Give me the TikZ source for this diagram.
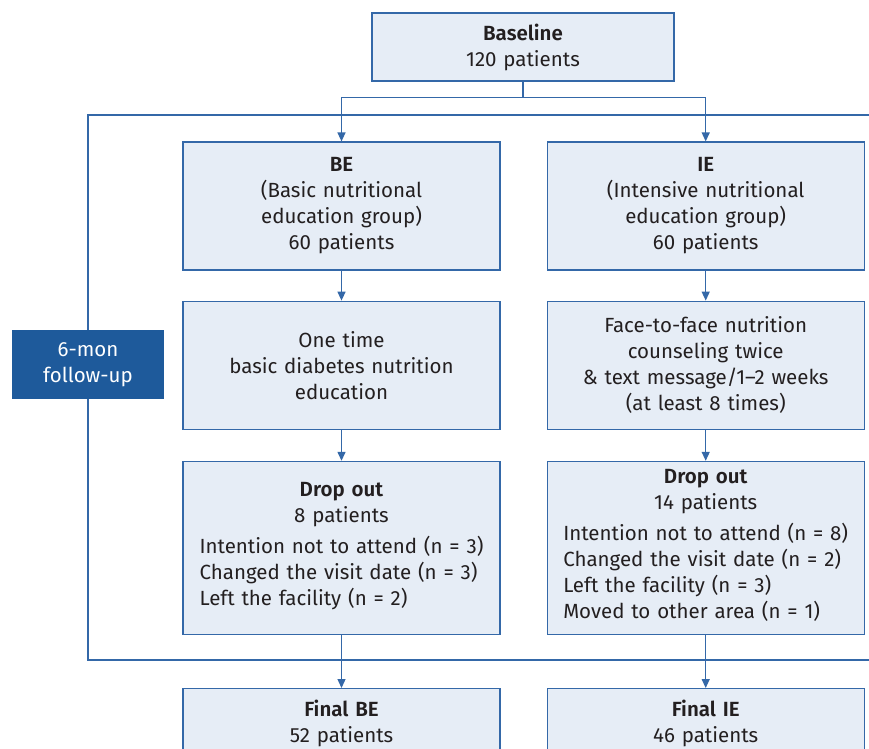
\documentclass[tikz,border=0pt]{standalone}
\usepackage{fontspec}
\setmainfont{Fira Sans}[BoldFont={Fira Sans SemiBold}]
\usetikzlibrary{positioning, arrows.meta}

\definecolor{boxline}{RGB}{52,104,168}
\definecolor{boxfill}{RGB}{230,237,246}
\definecolor{fubox}{RGB}{30,90,155}
\definecolor{txt}{RGB}{35,31,32}

\tikzset{
  box/.style={draw=boxline, fill=boxfill, line width=1.2pt, text=txt,
    text width=305pt, inner xsep=6pt, align=center,
    font=\fontsize{20.5}{26}\selectfont},
  arr/.style={draw=boxline, line width=1.3pt, -{Triangle[width=8pt,length=9pt]}},
  frame/.style={draw=boxline, line width=1.3pt}
}

\begin{document}
\begin{tikzpicture}[x=1pt, y=-1pt]
\clip (0,0) rectangle (869,748);
\fill[white] (0,0) rectangle (869,748);

\node[box, text width=290pt, minimum height=68pt] (base) at (523,47)
    {\textbf{Baseline}\\120 patients};
\node[box, minimum height=128pt] (be) at (341.5,206)
    {\textbf{BE}\\(Basic nutritional\\education group)\\60 patients};
\node[box, minimum height=128pt, right=46pt of be] (ie)
    {\textbf{IE}\\(Intensive nutritional\\education group)\\60 patients};
\node[box, minimum height=128pt, below=30pt of be] (beEdu)
    {One time\\basic diabetes nutrition\\education};
\node[box, minimum height=128pt, below=30pt of ie] (ieEdu)
    {Face-to-face nutrition\\counseling twice\\\& text message/1--2 weeks\\(at least 8 times)};
\node[box, minimum height=173pt, below=31pt of beEdu] (beDrop)
    {\textbf{Drop out}\\8 patients\\[7pt]
    \begin{tabular}{@{}l@{}}Intention not to attend (n = 3)\\
    Changed the visit date (n = 3)\\Left the facility (n = 2)\end{tabular}};
\node[box, minimum height=173pt, below=31pt of ieEdu] (ieDrop)
    {\textbf{Drop out}\\14 patients\\[7pt]
    \begin{tabular}{@{}l@{}}Intention not to attend (n = 8)\\
    Changed the visit date (n = 2)\\Left the facility (n = 3)\\
    Moved to other area (n = 1)\end{tabular}};
\node[box, minimum height=70pt, below=53pt of beDrop] (beFinal)
    {\textbf{Final BE}\\52 patients};
\node[box, minimum height=70pt, below=53pt of ieDrop] (ieFinal)
    {\textbf{Final IE}\\46 patients};

% follow-up frame
\node[fill=fubox, text=white, minimum width=152pt, minimum height=69pt,
    align=center, font=\fontsize{20.5}{26}\selectfont] (fu) at (88,364.5)
    {6-mon\\follow-up};
\draw[frame] (890,115) -| (fu.north);
\draw[frame] (fu.south) |- (890,660);

\draw[frame] (base.south) -- ++(0,16) coordinate (split);
\draw[arr] (split) -| (be.north);
\draw[arr] (split) -| (ie.north);
\draw[arr] (be) -- (beEdu);
\draw[arr] (ie) -- (ieEdu);
\draw[arr] (beEdu) -- (beDrop);
\draw[arr] (ieEdu) -- (ieDrop);
\draw[arr] (beDrop) -- (beFinal);
\draw[arr] (ieDrop) -- (ieFinal);
\end{tikzpicture}
\end{document}
